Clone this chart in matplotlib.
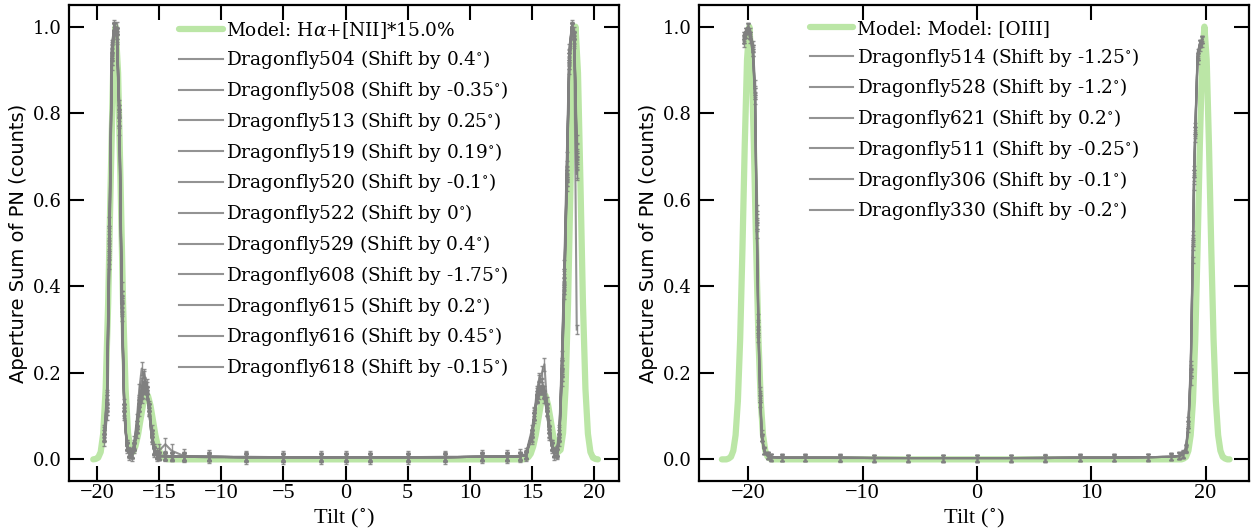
import matplotlib as mpl
import matplotlib.pyplot as plt

mpl.rcParams['mathtext.fontset'] = 'dejavuserif'

# ---- left panel: H-alpha + [NII] ----
model_tilt_l = [-20.3, -20.1, -19.9, -19.7, -19.5, -19.3, -19.1, -18.9, -18.7, -18.5,
                -18.3, -18.1, -17.9, -17.7, -17.5, -17.3, -17.1, -16.9, -16.7, -16.5,
                -16.3, -16.1, -15.9, -15.7, -15.5, -15.3, -15.1, -14.9, -14.7, -14.5,
                -14.3, -12.0, -8.0, -4.0, 0.0, 4.0, 8.0, 12.0,
                14.3, 14.5, 14.7, 14.9, 15.1, 15.3, 15.5, 15.7, 15.9, 16.1,
                16.3, 16.5, 16.7, 16.9, 17.1, 17.3, 17.5, 17.7, 17.9, 18.1,
                18.3, 18.5, 18.7, 18.9, 19.1, 19.3, 19.5, 19.7, 19.9, 20.1, 20.3]
model_val_l = [0.000, 0.001, 0.004, 0.017, 0.059, 0.163, 0.360, 0.635, 0.893, 1.000,
               0.893, 0.635, 0.360, 0.164, 0.061, 0.022, 0.017, 0.031, 0.056, 0.091,
               0.125, 0.147, 0.147, 0.125, 0.091, 0.056, 0.030, 0.013, 0.005, 0.002,
               0.000, 0.000, 0.000, 0.000, 0.000, 0.000, 0.000, 0.000,
               0.000, 0.002, 0.005, 0.013, 0.030, 0.056, 0.091, 0.125, 0.147, 0.147,
               0.125, 0.091, 0.056, 0.031, 0.017, 0.022, 0.061, 0.164, 0.360, 0.635,
               0.893, 1.000, 0.893, 0.635, 0.360, 0.163, 0.059, 0.017, 0.004, 0.001, 0.000]

tilt_l = [-19.4, -19.2, -19.0, -18.8, -18.6, -18.4, -18.2, -18.0, -17.8, -17.6, -17.4, -17.2,
          -17.0, -16.8, -16.6, -16.4, -16.2, -16.0, -15.8, -15.6, -15.4, -15.2, -15.0,
          -14.5, -14.0, -13.0, -11.0, -8.0, -5.0, -2.0, 0.0, 2.0, 5.0, 8.0, 11.0, 13.0, 14.0, 14.5,
          15.0, 15.2, 15.4, 15.6, 15.8, 16.0, 16.2, 16.4, 16.6, 16.8, 17.0, 17.2,
          17.4, 17.6, 17.8, 18.0, 18.2, 18.4, 18.6]

names_l = ['Dragonfly504', 'Dragonfly508', 'Dragonfly513', 'Dragonfly519', 'Dragonfly520',
           'Dragonfly522', 'Dragonfly529', 'Dragonfly608', 'Dragonfly615', 'Dragonfly616',
           'Dragonfly618']
shifts_l = ['0.4', '-0.35', '0.25', '0.19', '-0.1', '0', '0.4', '-1.75', '0.2', '0.45', '-0.15']
errs_l = [0.008, 0.010, 0.008, 0.009, 0.008, 0.007, 0.015, 0.010, 0.008, 0.009, 0.008]

df504 = [0.06, 0.14, 0.52, 0.95, 1.00, 0.98, 0.78, 0.35, 0.11, 0.03, 0.014, 0.012,
         0.03, 0.08, 0.13, 0.16, 0.18, 0.16, 0.11, 0.05, 0.02, 0.01, 0.008,
         0.007, 0.006, 0.006, 0.005, 0.005, 0.005, 0.004, 0.005, 0.005, 0.005, 0.005, 0.006, 0.006, 0.007, 0.010,
         0.05, 0.10, 0.15, 0.17, 0.16, 0.15, 0.11, 0.06, 0.03, 0.014, 0.016, 0.06,
         0.22, 0.42, 0.66, 0.93, 1.00, 0.97, 0.68]
df508 = [0.04, 0.10, 0.45, 0.91, 0.99, 1.00, 0.82, 0.40, 0.13, 0.035, 0.016, 0.013,
         0.025, 0.06, 0.11, 0.14, 0.16, 0.15, 0.12, 0.07, 0.025, 0.011, 0.008,
         0.008, 0.007, 0.006, 0.006, 0.006, 0.005, 0.005, 0.005, 0.005, 0.005, 0.006, 0.006, 0.007, 0.008, 0.011,
         0.07, 0.11, 0.14, 0.15, 0.16, 0.15, 0.12, 0.08, 0.035, 0.016, 0.014, 0.04,
         0.18, 0.38, 0.63, 0.90, 0.99, 0.99, 0.74]
df513 = [0.05, 0.13, 0.50, 0.94, 1.00, 0.99, 0.79, 0.36, 0.12, 0.03, 0.015, 0.011,
         0.03, 0.07, 0.12, 0.15, 0.17, 0.16, 0.12, 0.06, 0.02, 0.01, 0.007,
         0.007, 0.007, 0.006, 0.006, 0.005, 0.005, 0.005, 0.005, 0.005, 0.005, 0.005, 0.006, 0.006, 0.007, 0.009,
         0.06, 0.10, 0.14, 0.16, 0.17, 0.15, 0.12, 0.07, 0.03, 0.015, 0.015, 0.05,
         0.21, 0.41, 0.66, 0.93, 1.00, 0.98, 0.69]
df519 = [0.05, 0.12, 0.49, 0.93, 1.00, 0.99, 0.80, 0.37, 0.12, 0.03, 0.015, 0.012,
         0.035, 0.08, 0.14, 0.18, 0.20, 0.17, 0.12, 0.06, 0.02, 0.01, 0.008,
         0.009, 0.007, 0.006, 0.006, 0.005, 0.005, 0.005, 0.005, 0.005, 0.005, 0.005, 0.006, 0.006, 0.007, 0.010,
         0.06, 0.11, 0.16, 0.19, 0.18, 0.16, 0.12, 0.07, 0.03, 0.015, 0.015, 0.05,
         0.20, 0.40, 0.65, 0.92, 1.00, 0.98, 0.70]
df520 = [0.05, 0.11, 0.47, 0.92, 1.00, 0.99, 0.81, 0.38, 0.12, 0.03, 0.015, 0.012,
         0.03, 0.07, 0.12, 0.15, 0.16, 0.15, 0.12, 0.06, 0.02, 0.01, 0.008,
         0.007, 0.007, 0.006, 0.006, 0.005, 0.005, 0.005, 0.005, 0.005, 0.005, 0.005, 0.006, 0.006, 0.007, 0.010,
         0.06, 0.10, 0.14, 0.16, 0.16, 0.15, 0.12, 0.07, 0.03, 0.015, 0.015, 0.05,
         0.19, 0.39, 0.64, 0.91, 1.00, 0.98, 0.72]
df522 = [0.05, 0.12, 0.48, 0.93, 1.00, 0.99, 0.80, 0.37, 0.12, 0.03, 0.015, 0.012,
         0.03, 0.07, 0.13, 0.16, 0.17, 0.16, 0.12, 0.06, 0.02, 0.01, 0.008,
         0.007, 0.007, 0.006, 0.006, 0.005, 0.005, 0.005, 0.005, 0.005, 0.005, 0.005, 0.006, 0.006, 0.007, 0.010,
         0.06, 0.10, 0.14, 0.16, 0.16, 0.15, 0.12, 0.07, 0.03, 0.015, 0.015, 0.05,
         0.20, 0.40, 0.65, 0.92, 1.00, 0.98, 0.70]
df529 = [0.06, 0.14, 0.52, 0.95, 1.00, 0.98, 0.78, 0.35, 0.11, 0.03, 0.014, 0.012,
         0.04, 0.09, 0.16, 0.21, 0.19, 0.17, 0.12, 0.05, 0.02, 0.012, 0.02,
         0.035, 0.02, 0.008, 0.006, 0.005, 0.005, 0.005, 0.005, 0.005, 0.005, 0.005, 0.006, 0.007, 0.008, 0.012,
         0.05, 0.10, 0.15, 0.18, 0.20, 0.22, 0.13, 0.06, 0.03, 0.014, 0.016, 0.06,
         0.22, 0.42, 0.66, 0.93, 1.00, 0.97, 0.66]
df608 = [0.07, 0.15, 0.55, 0.96, 1.00, 0.97, 0.76, 0.33, 0.10, 0.03, 0.014, 0.012,
         0.03, 0.07, 0.12, 0.15, 0.17, 0.15, 0.11, 0.05, 0.02, 0.01, 0.008,
         0.007, 0.007, 0.006, 0.006, 0.005, 0.005, 0.005, 0.005, 0.005, 0.005, 0.005, 0.006, 0.006, 0.007, 0.010,
         0.06, 0.10, 0.14, 0.16, 0.16, 0.14, 0.11, 0.06, 0.03, 0.015, 0.02, 0.07,
         0.24, 0.45, 0.70, 0.95, 1.00, 0.96, 0.30]
df615 = [0.05, 0.12, 0.49, 0.93, 1.00, 0.99, 0.80, 0.37, 0.12, 0.03, 0.015, 0.012,
         0.03, 0.07, 0.12, 0.15, 0.17, 0.16, 0.12, 0.06, 0.02, 0.01, 0.008,
         0.007, 0.007, 0.006, 0.006, 0.005, 0.005, 0.005, 0.005, 0.005, 0.005, 0.005, 0.006, 0.006, 0.007, 0.010,
         0.06, 0.10, 0.14, 0.16, 0.16, 0.15, 0.12, 0.07, 0.03, 0.015, 0.015, 0.05,
         0.20, 0.41, 0.66, 0.93, 1.00, 0.98, 0.69]
df616 = [0.06, 0.14, 0.53, 0.95, 1.00, 0.98, 0.78, 0.34, 0.11, 0.03, 0.014, 0.012,
         0.03, 0.08, 0.13, 0.16, 0.18, 0.16, 0.11, 0.05, 0.02, 0.01, 0.008,
         0.007, 0.006, 0.006, 0.005, 0.005, 0.005, 0.005, 0.005, 0.005, 0.005, 0.005, 0.006, 0.006, 0.007, 0.010,
         0.05, 0.10, 0.15, 0.17, 0.16, 0.15, 0.11, 0.06, 0.03, 0.014, 0.016, 0.06,
         0.22, 0.43, 0.67, 0.94, 1.00, 0.97, 0.66]
df618 = [0.05, 0.11, 0.46, 0.92, 1.00, 0.99, 0.81, 0.38, 0.12, 0.03, 0.015, 0.012,
         0.03, 0.07, 0.12, 0.15, 0.17, 0.16, 0.12, 0.06, 0.02, 0.01, 0.008,
         0.007, 0.007, 0.006, 0.006, 0.005, 0.005, 0.005, 0.005, 0.005, 0.005, 0.005, 0.006, 0.006, 0.007, 0.010,
         0.06, 0.10, 0.14, 0.16, 0.16, 0.15, 0.12, 0.07, 0.03, 0.015, 0.015, 0.05,
         0.19, 0.39, 0.64, 0.91, 1.00, 0.98, 0.71]
series_l = [df504, df508, df513, df519, df520, df522, df529, df608, df615, df616, df618]

# ---- right panel: [OIII] ----
model_tilt_r = [-22.3, -22.1, -21.9, -21.7, -21.5, -21.3, -21.1, -20.9, -20.7, -20.5,
                -20.3, -20.1, -19.9, -19.7, -19.5, -19.3, -19.1, -18.9, -18.7, -18.5,
                -18.3, -18.1, -17.9, -17.5, -12.0, -6.0, 0.0, 6.0, 12.0,
                17.5, 17.9, 18.1, 18.3, 18.5, 18.7, 18.9, 19.1, 19.3, 19.5,
                19.7, 19.9, 20.1, 20.3, 20.5, 20.7, 20.9, 21.1, 21.3, 21.5,
                21.7, 21.9, 22.1]
model_val_r = [0.000, 0.000, 0.000, 0.002, 0.006, 0.020, 0.056, 0.135, 0.278, 0.487,
               0.726, 0.923, 1.000, 0.923, 0.726, 0.487, 0.278, 0.135, 0.056, 0.020,
               0.006, 0.002, 0.000, 0.000, 0.000, 0.000, 0.000, 0.000, 0.000,
               0.000, 0.000, 0.002, 0.006, 0.020, 0.056, 0.135, 0.278, 0.487, 0.726,
               0.923, 1.000, 0.923, 0.726, 0.487, 0.278, 0.135, 0.056, 0.020, 0.006,
               0.002, 0.000, 0.000]

tilt_r = [-20.4, -20.2, -20.0, -19.8, -19.6, -19.4, -19.25, -19.1, -18.95, -18.8, -18.6, -18.3, -18.0,
          -17.0, -15.0, -12.0, -9.0, -6.0, -3.0, 0.0, 3.0, 6.0, 9.0, 12.0, 15.0, 17.0,
          17.7, 18.0, 18.3, 18.5, 18.7, 18.9, 19.0, 19.1, 19.3, 19.5, 19.7]

names_r = ['Dragonfly514', 'Dragonfly528', 'Dragonfly621', 'Dragonfly511', 'Dragonfly306', 'Dragonfly330']
shifts_r = ['-1.25', '-1.2', '0.2', '-0.25', '-0.1', '-0.2']
errs_r = [0.008, 0.008, 0.007, 0.008, 0.007, 0.008]

df514 = [0.97, 0.99, 1.00, 0.98, 0.95, 0.85, 0.55, 0.30, 0.14, 0.05, 0.02, 0.008, 0.005,
         0.004, 0.004, 0.004, 0.003, 0.003, 0.003, 0.003, 0.003, 0.003, 0.004, 0.004, 0.005, 0.006,
         0.008, 0.012, 0.025, 0.08, 0.20, 0.50, 0.66, 0.76, 0.93, 0.96, 0.97]
df528 = [0.98, 0.99, 0.99, 0.97, 0.94, 0.83, 0.52, 0.28, 0.13, 0.05, 0.02, 0.008, 0.005,
         0.004, 0.004, 0.003, 0.003, 0.003, 0.003, 0.003, 0.003, 0.004, 0.004, 0.004, 0.005, 0.006,
         0.008, 0.013, 0.028, 0.09, 0.22, 0.52, 0.67, 0.77, 0.94, 0.96, 0.97]
df621 = [0.96, 0.98, 1.00, 0.99, 0.96, 0.87, 0.58, 0.33, 0.16, 0.06, 0.02, 0.009, 0.005,
         0.004, 0.004, 0.004, 0.004, 0.003, 0.003, 0.003, 0.003, 0.004, 0.004, 0.004, 0.005, 0.006,
         0.007, 0.010, 0.022, 0.07, 0.18, 0.46, 0.63, 0.74, 0.92, 0.95, 0.96]
df511 = [0.97, 0.99, 1.00, 0.98, 0.95, 0.85, 0.56, 0.31, 0.15, 0.05, 0.02, 0.008, 0.005,
         0.004, 0.004, 0.004, 0.003, 0.003, 0.003, 0.003, 0.003, 0.003, 0.004, 0.004, 0.005, 0.006,
         0.008, 0.012, 0.026, 0.08, 0.21, 0.50, 0.66, 0.76, 0.93, 0.96, 0.97]
df306 = [0.97, 0.98, 0.99, 0.98, 0.95, 0.84, 0.54, 0.30, 0.14, 0.05, 0.02, 0.008, 0.005,
         0.004, 0.004, 0.004, 0.003, 0.003, 0.003, 0.003, 0.003, 0.003, 0.004, 0.004, 0.005, 0.006,
         0.008, 0.011, 0.024, 0.08, 0.20, 0.49, 0.65, 0.75, 0.93, 0.96, 0.97]
df330 = [0.98, 0.99, 1.00, 0.98, 0.94, 0.84, 0.54, 0.29, 0.14, 0.05, 0.02, 0.008, 0.005,
         0.004, 0.004, 0.004, 0.003, 0.003, 0.003, 0.003, 0.003, 0.003, 0.004, 0.004, 0.005, 0.006,
         0.008, 0.012, 0.025, 0.08, 0.20, 0.51, 0.66, 0.76, 0.93, 0.96, 0.97]
series_r = [df514, df528, df621, df511, df306, df330]

green = '#bbe6a6'


def panel(ax, mtilt, mval, mlabel, tilt, series, names, shifts, errs, xlim, xticks):
    ax.plot(mtilt, mval, color=green, lw=4.5, solid_capstyle='round', label=mlabel, zorder=1)
    for vals, name, sh, e in zip(series, names, shifts, errs):
        ax.errorbar(tilt, vals, yerr=e, color='gray', lw=1.5, elinewidth=1,
                    capsize=1.5, alpha=0.85, zorder=2)
        ax.plot([], [], color='gray', lw=1.5, alpha=0.85,
                label=f'{name} (Shift by {sh}$^{{\\circ}}$)')
    ax.set_xlim(*xlim)
    ax.set_ylim(-0.05, 1.05)
    ax.set_xticks(xticks)
    ax.tick_params(direction='in', length=11, width=1.5, top=True, right=True, pad=5)
    ax.tick_params(axis='x', pad=2)
    for sp in ax.spines.values():
        sp.set_linewidth(1.6)
    for lab in ax.get_xticklabels():
        lab.set_fontfamily('Liberation Serif')
        lab.set_fontsize(16)
    for lab in ax.get_yticklabels():
        lab.set_fontfamily('DejaVu Serif')
        lab.set_fontsize(13)
    ax.set_xlabel('Tilt ($^{\\circ}$)', fontfamily='Liberation Serif', fontsize=16, labelpad=2.5)
    ax.set_ylabel('Aperture Sum of PN (counts)', fontfamily='DejaVu Sans', fontsize=14)
    ax.legend(loc='upper center', frameon=False, prop={'family': 'DejaVu Serif', 'size': 13.3},
              handlelength=2.35, handletextpad=0.2, labelspacing=0.42, borderaxespad=0.4)


fig = plt.figure(figsize=(12.53, 5.31), dpi=100)
ax1 = fig.add_axes([69 / 1253, 50 / 531, 550 / 1253, 476 / 531])
ax2 = fig.add_axes([699 / 1253, 50 / 531, 550 / 1253, 476 / 531])

panel(ax1, model_tilt_l, model_val_l, 'Model: H$\\alpha$+[NII]*15.0%',
      tilt_l, series_l, names_l, shifts_l, errs_l, (-22.25, 22.0),
      [-20, -15, -10, -5, 0, 5, 10, 15, 20])
panel(ax2, model_tilt_r, model_val_r, 'Model: Model: [OIII]',
      tilt_r, series_r, names_r, shifts_r, errs_r, (-24.3, 23.8),
      [-20, -10, 0, 10, 20])

fig.savefig('out.png', dpi=100)
